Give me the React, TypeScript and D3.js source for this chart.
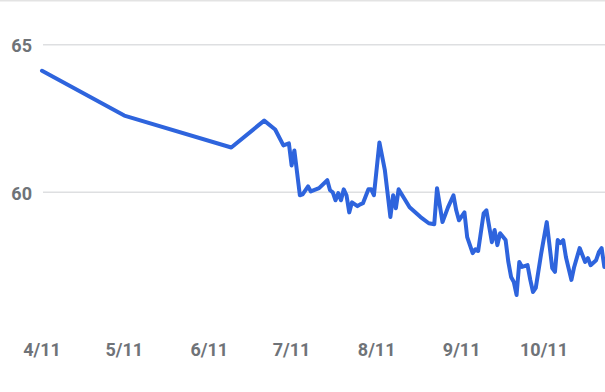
import React from "react";
import * as d3 from "d3";

const dates: string[] = [
  "2023-04-11", "2023-05-11", "2023-06-19", "2023-07-01", "2023-07-05", "2023-07-08",
  "2023-07-10", "2023-07-11", "2023-07-12", "2023-07-14", "2023-07-15", "2023-07-17",
  "2023-07-18", "2023-07-21", "2023-07-24", "2023-07-25", "2023-07-26", "2023-07-27",
  "2023-07-28", "2023-07-29", "2023-07-30", "2023-07-31", "2023-08-01", "2023-08-02",
  "2023-08-04", "2023-08-05", "2023-08-06", "2023-08-08", "2023-08-09", "2023-08-10",
  "2023-08-12", "2023-08-14", "2023-08-16", "2023-08-17", "2023-08-18", "2023-08-19",
  "2023-08-21", "2023-08-23", "2023-08-27", "2023-08-30", "2023-09-01", "2023-09-02",
  "2023-09-04", "2023-09-06", "2023-09-08", "2023-09-09", "2023-09-10", "2023-09-12",
  "2023-09-13", "2023-09-15", "2023-09-16", "2023-09-17", "2023-09-19", "2023-09-20",
  "2023-09-22", "2023-09-23", "2023-09-24", "2023-09-25", "2023-09-27", "2023-09-28",
  "2023-09-29", "2023-09-30", "2023-10-01", "2023-10-02", "2023-10-03", "2023-10-05",
  "2023-10-06", "2023-10-07", "2023-10-08", "2023-10-10", "2023-10-12", "2023-10-14",
  "2023-10-15", "2023-10-16", "2023-10-17", "2023-10-18", "2023-10-19", "2023-10-21",
  "2023-10-22", "2023-10-24", "2023-10-26", "2023-10-27", "2023-10-28", "2023-10-30",
  "2023-10-31", "2023-11-01", "2023-11-02",
];

const values: number[] = [
  64.12, 62.6, 61.52, 62.43, 62.13, 61.59,
  61.66, 60.91, 61.42, 59.9, 59.93, 60.2,
  60.03, 60.14, 60.41, 60.07, 60.0, 59.73,
  59.97, 59.73, 60.1, 59.9, 59.32, 59.66,
  59.53, 59.59, 59.63, 60.1, 60.1, 59.9,
  61.69, 60.74, 59.16, 59.9, 59.46, 60.1,
  59.8, 59.49, 59.16, 58.95, 58.92, 60.14,
  58.99, 59.49, 59.9, 59.39, 59.05, 59.32,
  58.48, 57.94, 58.07, 58.01, 59.29, 59.39,
  58.31, 58.72, 58.21, 58.61, 58.38, 57.64,
  57.13, 56.96, 56.52, 57.64, 57.47, 57.53,
  57.03, 56.62, 56.76, 57.94, 58.99, 57.43,
  57.3, 58.38, 58.28, 58.38, 57.8, 57.03,
  57.47, 58.11, 57.64, 57.77, 57.53, 57.7,
  57.97, 58.11, 57.47,
];

const yTicks: number[] = [60, 65];
const xTickDates: string[] = [
  "2023-04-11", "2023-05-11", "2023-06-11", "2023-07-11",
  "2023-08-11", "2023-09-11", "2023-10-11", "2023-11-11",
];
const xTickLabels: string[] = ["4/11", "5/11", "6/11", "7/11", "8/11", "9/11", "10/11", "11/11"];

const W = 605;
const H = 392;

export default function App() {
  const parse = d3.utcParse("%Y-%m-%d");
  const x = d3
    .scaleUtc()
    .domain([parse("2023-04-11")!, parse("2023-10-11")!])
    .range([42, 544]);
  const y = d3.scaleLinear().domain([60, 65]).range([192.3, 44.8]);

  const pts = dates.map((d, i) => [parse(d)!, values[i]] as [Date, number]);
  const line = d3
    .line<[Date, number]>()
    .x((d) => x(d[0]))
    .y((d) => y(d[1]))
    .curve(d3.curveLinear);

  const font = "Roboto, 'Noto Sans', Arial, sans-serif";
  const textColor = "#6f7378";

  return (
    <svg
      width={W}
      height={H}
      style={{ position: "fixed", left: 0, top: 0, background: "#fff" }}
    >
      <line x1={0} x2={W} y1={0.75} y2={0.75} stroke="#e3e3e3" strokeWidth={1.5} />
      {yTicks.map((t) => (
        <g key={t}>
          <line x1={43} x2={W} y1={y(t)} y2={y(t)} stroke="#dedfe1" strokeWidth={1.5} />
          <text
            x={32}
            y={y(t) + 7.5}
            textAnchor="end"
            fontFamily={font}
            fontWeight={700}
            fontSize={18}
            fill={textColor}
          >
            {t}
          </text>
        </g>
      ))}
      {xTickDates.map((d, i) => (
        <text
          key={d}
          x={x(parse(d)!)}
          y={356}
          textAnchor="middle"
          fontFamily={font}
          fontWeight={700}
          fontSize={18}
          fill={textColor}
        >
          {xTickLabels[i]}
        </text>
      ))}
      <path
        d={line(pts) || ""}
        fill="none"
        stroke="#2e64dd"
        strokeWidth={4}
        strokeLinejoin="round"
        strokeLinecap="round"
      />
    </svg>
  );
}
